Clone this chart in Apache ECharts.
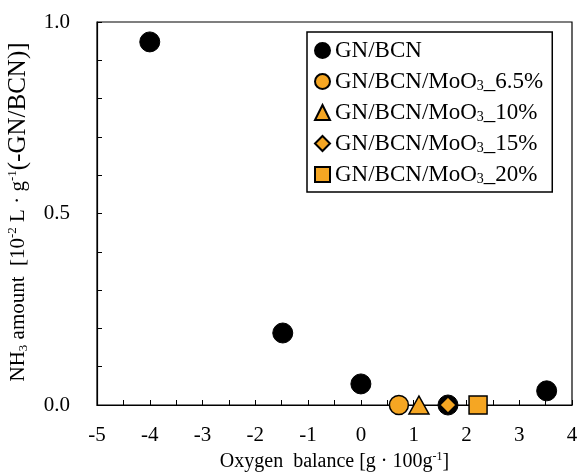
<!DOCTYPE html>
<html><head><meta charset="utf-8">
<script src="https://cdn.jsdelivr.net/npm/echarts@6/dist/echarts.min.js"></script>
<style>html,body{margin:0;padding:0;background:#fff}#c{width:579px;height:473px}</style>
</head><body><div id="c"></div>
<script>
const seriesNames = ['GN/BCN','GN/BCN/MoO3_6.5%','GN/BCN/MoO3_10%','GN/BCN/MoO3_15%','GN/BCN/MoO3_20%'];
const gnBcnX = [-4, -1.48, 0, 1.65, 3.52];
const gnBcnY = [0.948, 0.188, 0.055, 0.0, 0.037];
const mo65X = [0.72]; const mo65Y = [0.0];
const mo10X = [1.10]; const mo10Y = [0.0];
const mo15X = [1.65]; const mo15Y = [0.0];
const mo20X = [2.22]; const mo20Y = [0.0];
const xTicks = [-5,-4,-3,-2,-1,0,1,2,3,4];
const yTicks = [0.0,0.5,1.0];

const FONT = 'Liberation Serif';
const ORANGE = '#F5A623';
const pair = (xs, ys) => xs.map((x,i)=>[x, ys[i]]);
const chart = echarts.init(document.getElementById('c'));
const rich = {
  n:{fontFamily:FONT,fontSize:20,color:'#000',lineHeight:22,verticalAlign:'middle'},
  sub:{fontFamily:FONT,fontSize:12,color:'#000',lineHeight:12,verticalAlign:'bottom'},
  sup:{fontFamily:FONT,fontSize:12,color:'#000',lineHeight:12,verticalAlign:'top'}
};
const yRich = {
  n:{fontFamily:FONT,fontSize:21,color:'#000',lineHeight:24,verticalAlign:'middle'},
  w:{fontFamily:FONT,fontSize:25,color:'#000',lineHeight:24,verticalAlign:'middle'},
  sub:{fontFamily:FONT,fontSize:13,color:'#000',lineHeight:13,verticalAlign:'bottom'},
  sup:{fontFamily:FONT,fontSize:13,color:'#000',lineHeight:13,verticalAlign:'top'}
};
const legendRich = {
  n:{fontFamily:FONT,fontSize:23,color:'#000',lineHeight:23},
  sub:{fontFamily:FONT,fontSize:14,color:'#000',lineHeight:14,verticalAlign:'bottom'}
};
chart.setOption({
  animation:false,
  backgroundColor:'#fff',
  grid:{left:97,right:7,top:22,bottom:68,show:true,borderColor:'#000',borderWidth:1.2,
    containLabel:false, outerBoundsMode:'none'},
  graphic:[{
    type:'text', x:18, y:212, rotation:Math.PI/2,
    style:{
      text:'{n|NH}{sub|3}{n| amount  [10}{sup|-2}{n| L · g}{sup|-1}{w|(-GN/BCN)]}',
      rich:yRich, align:'center', verticalAlign:'middle', fill:'#000',
      fontFamily:FONT, fontSize:21
    }
  }],
  legend:{
    orient:'vertical', left:307, top:32,
    backgroundColor:'#fff', borderColor:'#000', borderWidth:1.5, borderRadius:0,
    padding:[7,9,6,7], itemGap:8, itemWidth:15, itemHeight:15,
    data:seriesNames,
    formatter:function(name){
      if(name==='GN/BCN') return '{n|GN/BCN}';
      const parts = name.split('MoO3');
      return '{n|'+parts[0]+'MoO}{sub|3}{n|'+parts[1]+'}';
    },
    textStyle:{fontFamily:FONT,fontSize:23,color:'#000',rich:legendRich}
  },
  xAxis:{
    type:'value', min:-5, max:4, interval:1,
    name:'{n|Oxygen  balance [g · 100g}{sup|-1}{n|]}', nameLocation:'middle', nameGap:46,
    nameTextStyle:{rich:rich},
    axisLine:{show:true,onZero:false,lineStyle:{color:'#000',width:1.2}},
    axisTick:{show:true,inside:true,length:5,lineStyle:{color:'#000'}},
    minorTick:{show:true,splitNumber:2,length:5,lineStyle:{color:'#000'}},
    axisLabel:{fontFamily:FONT,fontSize:21,color:'#000',margin:20,
      formatter:v=>xTicks.includes(v)?String(v):''},
    splitLine:{show:false}
  },
  yAxis:{
    type:'value', min:0, max:1, interval:0.5,
    axisLine:{show:true,onZero:false,lineStyle:{color:'#000',width:1.2}},
    axisTick:{show:true,inside:true,length:5,lineStyle:{color:'#000'}},
    minorTick:{show:true,splitNumber:5,length:5,lineStyle:{color:'#000'}},
    axisLabel:{fontFamily:FONT,fontSize:21,color:'#000',margin:27,
      formatter:v=>yTicks.includes(v)?v.toFixed(1):''},
    splitLine:{show:false}
  },
  series:[
    {name:seriesNames[0],type:'scatter',symbol:'circle',symbolSize:20,data:pair(gnBcnX,gnBcnY),
      itemStyle:{color:'#000',borderColor:'#000',borderWidth:1,opacity:1}},
    {name:seriesNames[1],type:'scatter',symbol:'circle',symbolSize:19,data:pair(mo65X,mo65Y),
      itemStyle:{color:ORANGE,borderColor:'#000',borderWidth:1.5,opacity:1}},
    {name:seriesNames[2],type:'scatter',symbol:'triangle',symbolSize:[20,18],data:pair(mo10X,mo10Y),
      itemStyle:{color:ORANGE,borderColor:'#000',borderWidth:1.5,opacity:1}},
    {name:seriesNames[3],type:'scatter',symbol:'diamond',symbolSize:[16,16],data:pair(mo15X,mo15Y),
      itemStyle:{color:ORANGE,borderColor:'#000',borderWidth:1.2,opacity:1}},
    {name:seriesNames[4],type:'scatter',symbol:'rect',symbolSize:18,data:pair(mo20X,mo20Y),
      itemStyle:{color:ORANGE,borderColor:'#000',borderWidth:1.5,opacity:1}}
  ]
});
</script></body></html>
